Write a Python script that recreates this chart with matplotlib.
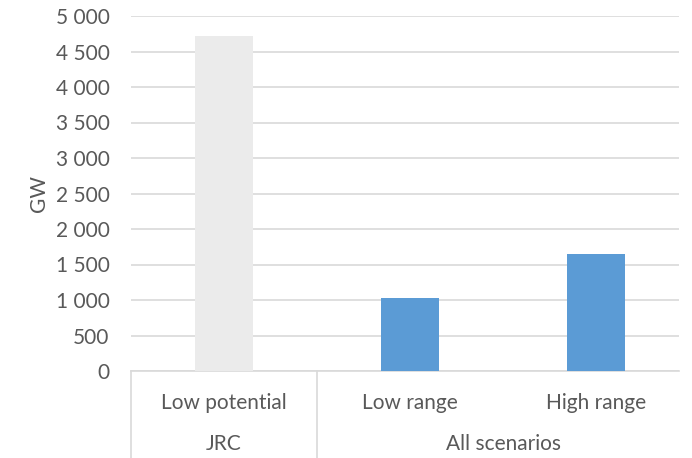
import matplotlib
matplotlib.use("Agg")
import matplotlib.pyplot as plt
from matplotlib.transforms import blended_transform_factory

# Data
categories = ["Low potential", "Low range", "High range"]
groups = ["JRC", "All scenarios"]
group_sizes = [1, 2]
values = [4720, 1025, 1645]
bar_colors = ["#ebebeb", "#5b9bd5", "#5b9bd5"]
y_ticks = list(range(0, 5001, 500))
y_tick_labels = [f"{v:,}".replace(",", " ") for v in y_ticks]

plt.rcParams["font.family"] = ["Lato", "DejaVu Sans"]
text_color = "#595959"
line_color = "#d9d9d9"
fs = 15

W, H = 692, 458
fig = plt.figure(figsize=(W / 100, H / 100), dpi=100)
left, right, top, bottom = 131, 679, 16, 371
ax = fig.add_axes([left / W, (H - bottom) / H, (right - left) / W, (bottom - top) / H])

x = list(range(len(categories)))
ax.bar(x, values, width=0.31, color=bar_colors, zorder=3)

ax.set_ylim(0, 5000)
cat_px = 186
ax.set_xlim(-0.5, -0.5 + (right - left) / cat_px)
ax.set_yticks(y_ticks)
ax.set_yticklabels(y_tick_labels)
ax.yaxis.grid(True, color=line_color, linewidth=1.2, zorder=0)
ax.tick_params(axis="y", length=0, pad=15.5, labelsize=fs, labelcolor=text_color)
ax.set_xticks([])
for s in ["top", "right", "left"]:
    ax.spines[s].set_visible(False)
ax.spines["bottom"].set_color(line_color)
ax.spines["bottom"].set_linewidth(1.2)
ax.set_ylabel("GW", fontsize=fs, color=text_color, labelpad=5)

# Two-level category axis
trans = blended_transform_factory(ax.transData, ax.transAxes)
y_low = -(H - bottom) / (bottom - top)
y_cat = -(403 - bottom) / (bottom - top)
y_grp = -(444 - bottom) / (bottom - top)
for xi, name in zip(x, categories):
    ax.text(xi, y_cat, name, transform=trans, ha="center", va="center",
            fontsize=fs, color=text_color)
start = 0
bounds = [-0.5]
for g, n in zip(groups, group_sizes):
    center = start + (n - 1) / 2
    ax.text(center, y_grp, g, transform=trans, ha="center", va="center",
            fontsize=fs, color=text_color)
    start += n
    bounds.append(start - 0.5)
for b in bounds[:-1]:
    ax.plot([b, b], [0, y_low], transform=trans, color=line_color,
            linewidth=1.2, clip_on=False)

fig.savefig("out.png", dpi=100)
